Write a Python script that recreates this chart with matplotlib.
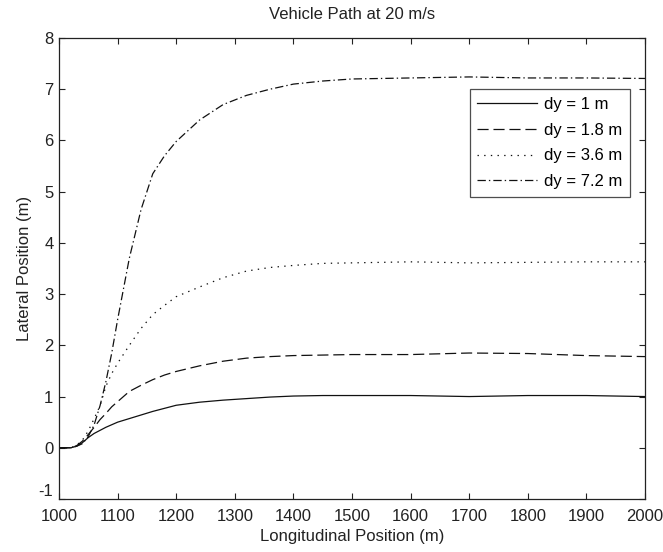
import matplotlib
matplotlib.use("Agg")
import matplotlib.pyplot as plt

# Longitudinal stations (m)
x_pos = [1000, 1010, 1020, 1030, 1040, 1050, 1060, 1070, 1080, 1090, 1100,
         1120, 1140, 1160, 1180, 1200, 1240, 1280, 1320, 1360, 1400, 1450,
         1500, 1600, 1700, 1800, 1900, 2000]

# Lateral position (m) for each lane-change offset
y_dy1 = [0, 0, 0.0, 0.03, 0.10, 0.20, 0.28, 0.34, 0.40, 0.45, 0.50,
         0.57, 0.64, 0.71, 0.77, 0.83, 0.89, 0.93, 0.96, 0.99, 1.01, 1.02,
         1.02, 1.02, 1.00, 1.02, 1.02, 1.00]
y_dy18 = [0, 0, 0.0, 0.04, 0.13, 0.26, 0.40, 0.55, 0.67, 0.80, 0.90,
          1.10, 1.22, 1.33, 1.42, 1.49, 1.60, 1.69, 1.75, 1.78, 1.80, 1.81,
          1.82, 1.82, 1.85, 1.84, 1.80, 1.78]
y_dy36 = [0, 0, 0.0, 0.05, 0.15, 0.33, 0.57, 0.82, 1.20, 1.45, 1.65,
          2.00, 2.33, 2.60, 2.78, 2.95, 3.14, 3.32, 3.45, 3.52, 3.56, 3.60,
          3.61, 3.63, 3.61, 3.62, 3.63, 3.63]
y_dy72 = [0, 0, 0.0, 0.03, 0.08, 0.22, 0.45, 0.82, 1.29, 1.85, 2.50,
          3.70, 4.65, 5.35, 5.70, 5.98, 6.40, 6.70, 6.88, 7.00, 7.10, 7.16,
          7.20, 7.22, 7.24, 7.22, 7.22, 7.21]

labels = ["dy = 1 m", "dy = 1.8 m", "dy = 3.6 m", "dy = 7.2 m"]

x_ticks = [1000, 1100, 1200, 1300, 1400, 1500, 1600, 1700, 1800, 1900, 2000]
y_ticks = [-1, 0, 1, 2, 3, 4, 5, 6, 7, 8]

plt.rcParams['font.family'] = ['Liberation Sans', 'DejaVu Sans']
plt.rcParams['lines.scale_dashes'] = False
plt.rcParams['axes.unicode_minus'] = False

fig = plt.figure(figsize=(6.63, 5.52), dpi=100)
ax = fig.add_axes([59 / 663, 1 - 499 / 552, 586 / 663, 461 / 552])

lw = 0.9
col = '#111111'
ax.plot(x_pos, y_dy1, color=col, lw=lw, linestyle='-', label=labels[0])
ax.plot(x_pos, y_dy18, color=col, lw=lw, linestyle=(0, (8, 3.5)), label=labels[1])
ax.plot(x_pos, y_dy36, color=col, lw=lw, linestyle=(0, (1, 3.8)), label=labels[2])
ax.plot(x_pos, y_dy72, color=col, lw=lw, linestyle=(0, (6, 2.2, 1, 2.2)), label=labels[3])

ax.set_xlim(1000, 2000)
ax.set_ylim(-1, 8)
ax.set_xticks(x_ticks)
ax.set_yticks(y_ticks)
ax.tick_params(direction='in', length=4.5, width=0.8, top=True, right=True,
               labelsize=12, colors='#222222')
ax.tick_params(axis='x', pad=7)
ax.tick_params(axis='y', pad=4)
for s in ax.spines.values():
    s.set_linewidth(0.9)
    s.set_color('#222222')

# lift the lowest y label a touch so it clears the first x label
ax.get_yticklabels()[0].set_verticalalignment('bottom')

ax.set_title("Vehicle Path at 20 m/s", fontsize=12, pad=14, color='#222222')
ax.set_xlabel("Longitudinal Position (m)", fontsize=12, labelpad=4, color='#222222')
ax.set_ylabel("Lateral Position (m)", fontsize=12, labelpad=5, color='#222222')

leg = ax.legend(loc='upper right', bbox_to_anchor=(0.974, 0.889),
                fontsize=12, frameon=True, fancybox=False, shadow=False,
                borderaxespad=0, handlelength=3.6, handletextpad=0.4,
                labelspacing=0.65, borderpad=0.45)
leg.get_frame().set_edgecolor('#222222')
leg.get_frame().set_linewidth(0.9)

fig.savefig("out.png", dpi=100)
